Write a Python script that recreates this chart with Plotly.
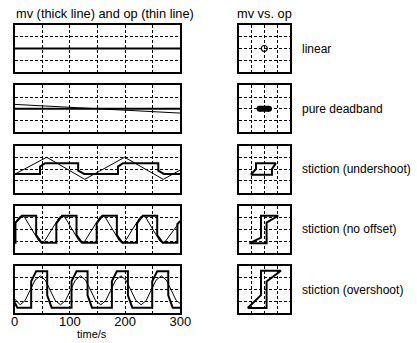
import plotly.graph_objects as go

# ---------------- data ----------------
# time series (time in s)
t_lin = [0, 300]
op_lin = [0, 0]
mv_lin = [0, 0]

t_db = [0, 300]
op_db = [0.37, -0.37]
mv_db = [0, 0]

t_op_us = [0, 58, 127, 199, 269, 300]
op_us = [-0.45, 1.0, -0.88, 1.0, -0.88, -0.08]
t_mv_us = [0, 46, 46, 55, 115, 115, 126, 187, 187, 196, 260, 260, 270, 300]
mv_us = [-0.42, -0.42, 0.2, 0.49, 0.49, -0.14, -0.42, -0.42, 0.2, 0.49, 0.49, -0.14, -0.42, -0.42]

t_op_no = [0, 8, 13, 18, 44, 49, 54, 81, 86, 91, 117, 122, 127, 154, 159, 164, 190, 195, 200, 227, 232, 237, 263, 268, 273, 300]
op_no = [0.5, 1.02, 1.15, 1.02, -1.02, -1.15, -1.02, 1.02, 1.15, 1.02, -1.02, -1.15, -1.02, 1.02, 1.15, 1.02,
         -1.02, -1.15, -1.02, 1.02, 1.15, 1.02, -1.02, -1.15, -1.02, 0.7]
t_mv_no = [0, 1.5, 1.5, 13, 39, 39, 49, 75.5, 75.5, 86, 112, 112, 122, 148.5, 148.5, 159, 185, 185, 195,
           221.5, 221.5, 232, 258, 258, 268, 294.5, 294.5, 300]
mv_no = [-1.15, -1.15, 0.55, 1.15, 1.15, -0.5, -1.15, -1.15, 0.5, 1.15, 1.15, -0.5, -1.15, -1.15, 0.5, 1.15,
         1.15, -0.5, -1.15, -1.15, 0.5, 1.15, 1.15, -0.5, -1.15, -1.15, 0.45, 0.7]

t_op_os = [0, 10, 19, 28, 37, 46.5, 55.5, 64.5, 73.5, 83, 92, 101, 110, 119.5, 128.5, 137.5, 146.5, 156,
           165, 174, 183, 192.5, 201.5, 210.5, 219.5, 229, 238, 247, 256, 265.5, 274.5, 283.5, 292.5, 300]
op_os = [-0.8, -1.3, -0.94, -0.07, 0.8, 1.16, 0.8, -0.07, -0.94, -1.3, -0.94, -0.07, 0.8, 1.16, 0.8, -0.07,
         -0.94, -1.3, -0.94, -0.07, 0.8, 1.16, 0.8, -0.07, -0.94, -1.3, -0.94, -0.07, 0.8, 1.16, 0.8, -0.07,
         -0.94, -1.2]
t_mv_os = [0, 5, 30, 30, 39, 59, 59, 67, 103, 103, 112, 132, 132, 140, 176, 176, 185, 205, 205, 213,
           249, 249, 258, 278, 278, 286, 300]
mv_os = [-1.1, -1.55, -1.55, 0.7, 1.55, 1.55, -0.5, -1.55, -1.55, 0.7, 1.55, 1.55, -0.5, -1.55, -1.55, 0.7,
         1.55, 1.55, -0.5, -1.55, -1.55, 0.7, 1.55, 1.55, -0.5, -1.55, -1.55]

# mv vs. op loops
loop_us_op = [-1.05, 0.6, 0.6, 0.9, -0.65, -0.65, -1.05]
loop_us_mv = [-0.48, -0.48, 0.0, 0.48, 0.48, 0.0, -0.48]
loop_no_op = [-1.17, 0.18, 0.18, 1.09, -0.26, -0.26, -1.17]
loop_no_mv = [-1.2, -1.2, 0.57, 1.15, 1.15, -0.71, -1.2]
loop_os_op = [-1.3, 0.18, 0.18, 1.3, -0.26, -0.26, -1.3]
loop_os_mv = [-1.58, -1.58, 0.68, 1.6, 1.6, -0.48, -1.58]

case_labels = ["linear", "pure deadband", "stiction (undershoot)", "stiction (no offset)", "stiction (overshoot)"]
time_ticks = [0, 50, 100, 150, 200, 250, 300]
time_ticktext = ["0", "", "100", "", "200", "", "300"]

# ---------------- figure ----------------
W, H = 417, 343
tops = [25, 85.25, 145.5, 205.75, 266]
ph = 47
left_dom = [11 / W, 183 / W]
right_dom = [243.5 / W, 296.5 / W]

series = [
    (t_lin, op_lin, t_lin, mv_lin),
    (t_db, op_db, t_db, mv_db),
    (t_op_us, op_us, t_mv_us, mv_us),
    (t_op_no, op_no, t_mv_no, mv_no),
    (t_op_os, op_os, t_mv_os, mv_os),
]
loops = [
    (op_lin, mv_lin),
    (op_db, mv_db),
    (loop_us_op, loop_us_mv),
    (loop_no_op, loop_no_mv),
    (loop_os_op, loop_os_mv),
]

fig = go.Figure()
layout = {}
common = dict(showline=True, linecolor="black", linewidth=2, mirror=True,
              showgrid=True, gridcolor="black", gridwidth=1, griddash="3px,2px",
              zeroline=False, ticks="", showticklabels=False, fixedrange=True)

for i in range(5):
    li = 2 * i + 1
    ri = 2 * i + 2
    yd = [1 - (tops[i] + ph) / H, 1 - tops[i] / H]
    lx = "x" if li == 1 else f"x{li}"
    ly = "y" if li == 1 else f"y{li}"
    rx, ry = f"x{ri}", f"y{ri}"
    t_op, op, t_mv, mv = series[i]
    fig.add_trace(go.Scatter(x=t_mv, y=mv, mode="lines", line=dict(color="black", width=2),
                             xaxis=lx, yaxis=ly, showlegend=False, hoverinfo="skip"))
    fig.add_trace(go.Scatter(x=t_op, y=op, mode="lines", line=dict(color="black", width=1),
                             xaxis=lx, yaxis=ly, showlegend=False, hoverinfo="skip"))
    lo, lm = loops[i]
    if i == 0:
        fig.add_trace(go.Scatter(x=lo[:1], y=lm[:1], mode="markers",
                                 marker=dict(symbol="circle-open", size=6, color="black", line=dict(width=1.2)),
                                 xaxis=rx, yaxis=ry, showlegend=False, hoverinfo="skip"))
    elif i == 1:
        fig.add_trace(go.Scatter(x=lo, y=lm, mode="lines+markers", line=dict(color="black", width=6),
                                 marker=dict(symbol="circle", size=6, color="black"),
                                 xaxis=rx, yaxis=ry, showlegend=False, hoverinfo="skip"))
    else:
        fig.add_trace(go.Scatter(x=lo, y=lm, mode="lines", line=dict(color="black", width=2),
                                 xaxis=rx, yaxis=ry, showlegend=False, hoverinfo="skip"))

    xl = dict(common, domain=left_dom, range=[0, 300], tickvals=time_ticks, ticktext=time_ticktext,
              anchor=ly)
    if i == 4:
        xl.update(showticklabels=True, tickfont=dict(family="Arial", size=13, color="black"),
                  ticklabelstandoff=-5)
    yl = dict(common, domain=yd, range=[-2, 2], tickvals=[-1, 0, 1], anchor=lx)
    xr = dict(common, domain=right_dom, range=[-2, 2], tickvals=[-1, 0, 1], anchor=ry)
    yr = dict(common, domain=yd, range=[-2, 2], tickvals=[-1, 0, 1], anchor=rx)
    layout["xaxis" if li == 1 else f"xaxis{li}"] = xl
    layout["yaxis" if li == 1 else f"yaxis{li}"] = yl
    layout[f"xaxis{ri}"] = xr
    layout[f"yaxis{ri}"] = yr

annotations = [
    dict(text="mv (thick line) and op (thin line)", x=10 / W, y=1 - 13.5 / H, xanchor="left", yanchor="middle",
         font=dict(size=12.8)),
    dict(text="mv vs. op", x=270 / W, y=1 - 13.5 / H, xanchor="center", yanchor="middle", font=dict(size=12.8)),
    dict(text="time/s", x=91 / W, y=1 - 333.5 / H, xanchor="center", yanchor="middle", font=dict(size=11)),
]
for i, lab in enumerate(case_labels):
    annotations.append(dict(text=lab, x=307 / W, y=1 - (tops[i] + ph / 2) / H, xanchor="left",
                            yanchor="middle", font=dict(size=12)))
for a in annotations:
    a.update(xref="paper", yref="paper", showarrow=False)
    a["font"].update(family="Arial", color="black")

fig.update_layout(**layout)
fig.update_layout(width=W, height=H, margin=dict(l=0, r=0, t=0, b=0), paper_bgcolor="white",
                  plot_bgcolor="white", annotations=annotations, showlegend=False)

fig.write_html("out.html", config={"displayModeBar": False})
